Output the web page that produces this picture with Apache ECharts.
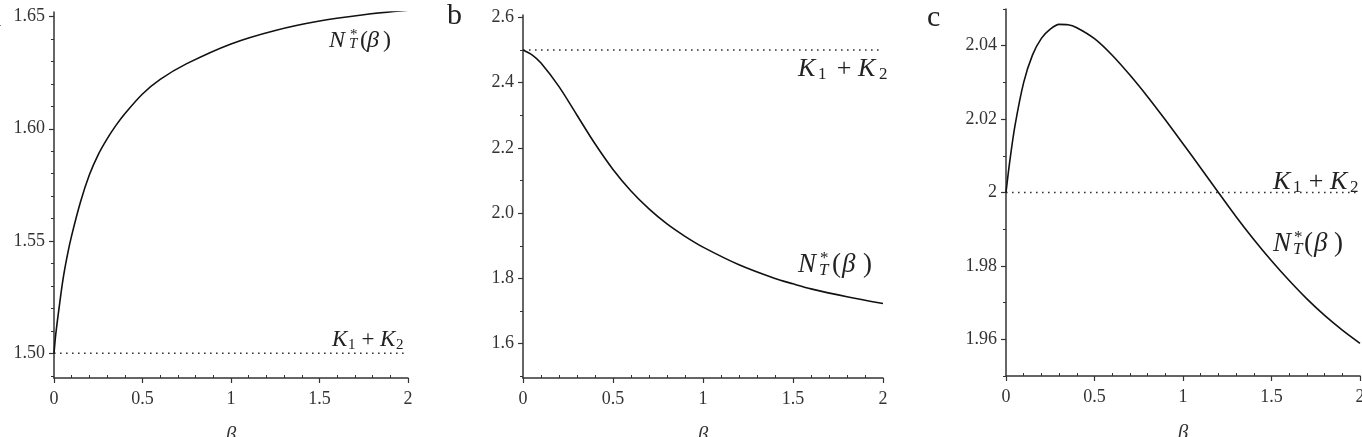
<!DOCTYPE html>
<html>
<head>
<meta charset="utf-8">
<script src="https://cdn.jsdelivr.net/npm/echarts@6/dist/echarts.min.js"></script>
<style>
html, body { margin: 0; padding: 0; background: #fff; }
#chart { width: 1362px; height: 437px; }
</style>
</head>
<body>
<div id="chart"></div>
<script>
// panel a: N_T*(beta) rising to a plateau, K1 + K2 = 1.5
const betaA = [0, 0.01, 0.025, 0.05, 0.075, 0.1, 0.15, 0.2, 0.25, 0.3, 0.35, 0.4, 0.5, 0.6, 0.75, 1.0, 1.25, 1.5, 1.75, 2.0]
const ntA = [1.500, 1.5085, 1.518, 1.5325, 1.5435, 1.5525, 1.5675, 1.5795, 1.5885, 1.5955, 1.6015, 1.6067, 1.6155, 1.622, 1.629, 1.6378, 1.6438, 1.648, 1.6508, 1.6528]
const kA = 1.5

// panel b: N_T*(beta) falling from K1 + K2 = 2.5
const betaB = [0, 0.05, 0.1, 0.2, 0.3, 0.4, 0.5, 0.6, 0.7, 0.8, 0.9, 1.0, 1.2, 1.4, 1.5, 1.6, 1.8, 2.0]
const ntB = [2.5, 2.485, 2.46, 2.3875, 2.30, 2.2125, 2.134, 2.068, 2.013, 1.967, 1.929, 1.896, 1.842, 1.800, 1.7835, 1.768, 1.744, 1.723]
const kB = 2.5

// panel c: hump above K1 + K2 = 2, then below
const betaC = [0, 0.02, 0.05, 0.1, 0.15, 0.2, 0.25, 0.3, 0.35, 0.4, 0.5, 0.6, 0.7, 0.8, 0.9, 1.0, 1.1, 1.2, 1.3, 1.4, 1.5, 1.6, 1.7, 1.8, 1.9, 2.0]
const ntC = [2.0, 2.008, 2.018, 2.030, 2.0375, 2.042, 2.0445, 2.0458, 2.0457, 2.0449, 2.0419, 2.0374, 2.032, 2.0261, 2.0198, 2.0133, 2.0067, 2.0, 1.9934, 1.9872, 1.9814, 1.976, 1.971, 1.9665, 1.9625, 1.9589]
const kC = 2

const xTicks = [0, 0.5, 1, 1.5, 2]
const yTicksA = [1.50, 1.55, 1.60, 1.65]
const yTicksB = [1.6, 1.8, 2.0, 2.2, 2.4, 2.6]
const yTicksC = [1.96, 1.98, 2, 2.02, 2.04]

const FONT = 'Liberation Serif'
const INK = '#333'

function minors (min, max, step, majors) {
  const out = []
  const start = Math.ceil(min / step - 1e-9)
  for (let i = start; i * step <= max + 1e-9; i++) {
    const v = Math.round(i * step * 1000) / 1000
    if (!majors.some(m => Math.abs(m - v) < 1e-9)) out.push(v)
  }
  return out
}

const panels = [
  { left: 54, top: 12, width: 354, height: 366, yMin: 1.489, yMax: 1.652, yTicks: yTicksA, yStep: 0.01,
    fmt: v => v.toFixed(2), beta: betaA, nt: ntA, k: kA },
  { left: 523, top: 15, width: 360, height: 363, yMin: 1.495, yMax: 2.607, yTicks: yTicksB, yStep: 0.1,
    fmt: v => v.toFixed(1), beta: betaB, nt: ntB, k: kB },
  { left: 1006, top: 9, width: 354, height: 367, yMin: 1.95, yMax: 2.05, yTicks: yTicksC, yStep: 0.01,
    fmt: v => String(Math.round(v * 100) / 100), beta: betaC, nt: ntC, k: kC }
]

const grid = []
const xAxis = []
const yAxis = []
const series = []

panels.forEach((p, i) => {
  grid.push({ left: p.left, top: p.top, width: p.width, height: p.height, outerBoundsMode: 'none', containLabel: false })
  // main x axis
  xAxis.push({
    type: 'value', gridIndex: i, min: 0, max: 2, position: 'bottom',
    axisLine: { show: true, onZero: false, lineStyle: { color: INK, width: 1.5 } },
    axisTick: { show: true, length: 5, customValues: xTicks, lineStyle: { color: INK, width: 1.2 } },
    axisLabel: { customValues: xTicks, margin: 12, fontSize: 18, fontFamily: FONT, color: INK },
    splitLine: { show: false },
    name: 'β', nameLocation: 'middle', nameGap: 47,
    nameTextStyle: { fontSize: 21, fontStyle: 'italic', fontFamily: FONT, color: INK }
  })
  // minor x ticks: a top axis shifted down onto the bottom edge, ticks pointing up into the plot
  xAxis.push({
    type: 'value', gridIndex: i, min: 0, max: 2, position: 'top', offset: -p.height,
    axisLine: { show: false, onZero: false },
    axisTick: { show: true, length: 3, customValues: minors(0, 2, 0.1, xTicks), lineStyle: { color: INK, width: 1 } },
    axisLabel: { show: false },
    splitLine: { show: false }
  })
  yAxis.push({
    type: 'value', gridIndex: i, min: p.yMin, max: p.yMax, position: 'left',
    axisLine: { show: true, onZero: false, lineStyle: { color: INK, width: 1.5 } },
    axisTick: { show: true, length: 5, customValues: p.yTicks, lineStyle: { color: INK, width: 1.2 } },
    axisLabel: { customValues: p.yTicks, formatter: p.fmt, margin: 9, fontSize: 18, fontFamily: FONT, color: INK },
    splitLine: { show: false }
  })
  // minor y ticks: a right axis shifted onto the left edge, ticks pointing left
  yAxis.push({
    type: 'value', gridIndex: i, min: p.yMin, max: p.yMax, position: 'right', offset: -p.width,
    axisLine: { show: false, onZero: false },
    axisTick: { show: true, inside: true, length: 3, customValues: minors(p.yMin, p.yMax, p.yStep, p.yTicks), lineStyle: { color: INK, width: 1 } },
    axisLabel: { show: false },
    splitLine: { show: false }
  })
  series.push({
    type: 'line', xAxisIndex: 2 * i, yAxisIndex: 2 * i,
    data: [[0, p.k], [2, p.k]],
    showSymbol: false, silent: true,
    lineStyle: { color: INK, width: 1.6, type: [1.6, 4.4] }
  })
  series.push({
    type: 'line', xAxisIndex: 2 * i, yAxisIndex: 2 * i,
    data: p.beta.map((b, j) => [b, p.nt[j]]),
    showSymbol: false, silent: true, smooth: 0.3,
    lineStyle: { color: '#111', width: 1.6 }
  })
})

// one piece of typeset text: [text, x, baseline, size, italic, align]
function piece (t) {
  const size = t[3]
  return {
    type: 'text', silent: true,
    style: {
      text: t[0], x: t[1], y: t[2] - 0.3 * size,
      fontSize: size, fontFamily: FONT, fontStyle: t[4] ? 'italic' : 'normal',
      fill: '#222', align: t[5] || 'left', textAlign: t[5] || 'left',
      verticalAlign: 'middle', textVerticalAlign: 'middle'
    }
  }
}

const labels = [
  // panel letters
  ['a', 1, 27, 30, false, 'right'],
  ['b', 447, 25, 30, false],
  ['c', 927, 27, 30, false],
  // panel a
  ['N', 329, 48, 24, true], ['*', 350, 40, 15, false], ['T', 349, 49, 15, true],
  ['(', 360, 48, 24, false], ['β', 367, 48, 24, true], [')', 383, 48, 24, false],
  ['K', 332, 347, 23, true], ['1', 348, 350, 15, false], ['+', 368, 347, 23, false, 'center'],
  ['K', 380, 347, 23, true], ['2', 396, 350, 15, false],
  // panel b
  ['K', 798, 77, 26, true], ['1', 818, 80, 17, false], ['+', 844, 77, 26, false, 'center'],
  ['K', 858, 77, 26, true], ['2', 879, 80, 17, false],
  ['N', 798, 273, 27, true], ['*', 820, 264, 17, false], ['T', 819, 276, 17, true],
  ['(', 832, 273, 27, false], ['β', 842, 273, 27, true], [')', 863, 273, 27, false],
  // panel c
  ['K', 1273, 190, 26, true], ['1', 1293, 193, 17, false], ['+', 1316, 190, 26, false, 'center'],
  ['K', 1330, 190, 26, true], ['2', 1350, 193, 17, false],
  ['N', 1273, 252, 27, true], ['*', 1294, 243, 17, false], ['T', 1293, 255, 17, true],
  ['(', 1304, 252, 27, false], ['β', 1314, 252, 27, true], [')', 1334, 252, 27, false]
]

const chart = echarts.init(document.getElementById('chart'))
chart.setOption({
  animation: false,
  backgroundColor: '#fff',
  grid: grid,
  xAxis: xAxis,
  yAxis: yAxis,
  series: series,
  graphic: labels.map(piece)
})
</script>
</body>
</html>
